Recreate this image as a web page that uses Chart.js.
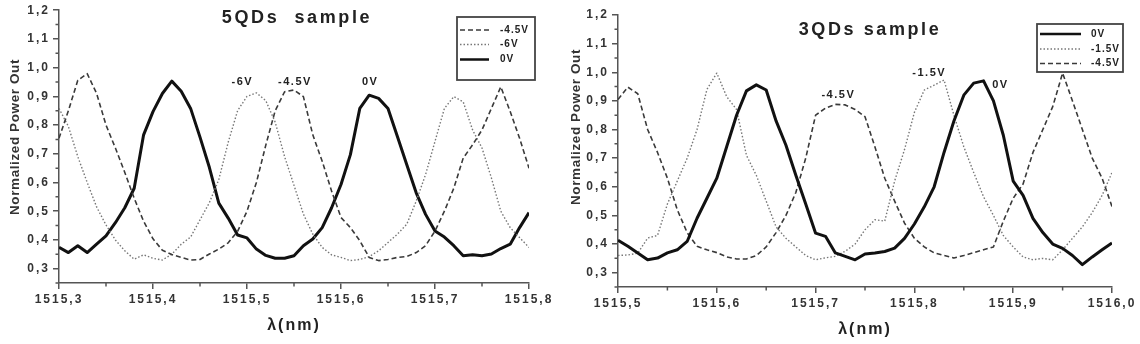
<!DOCTYPE html>
<html>
<head>
<meta charset="utf-8">
<script src="https://cdn.jsdelivr.net/npm/chart.js@4.4.1/dist/chart.umd.min.js"></script>
<style>
  html, body { margin: 0; padding: 0; background: #fff; overflow: hidden; }
  body { width: 1140px; height: 344px; position: relative; }
  #left { position: absolute; left: 0; top: 0; }
  #right { position: absolute; left: 560px; top: 0; }
</style>
</head>
<body>
<canvas id="left" width="560" height="344"></canvas>
<canvas id="right" width="600" height="344"></canvas>
<script>
const FONT = "'Liberation Sans', Arial, sans-serif";
const INK = '#333';
const AXIS = '#555';

// wavelength grids (nm)
const lambda5 = [1515.30, 1515.31, 1515.32, 1515.33, 1515.34, 1515.35, 1515.36, 1515.37, 1515.38, 1515.39,
  1515.40, 1515.41, 1515.42, 1515.43, 1515.44, 1515.45, 1515.46, 1515.47, 1515.48, 1515.49,
  1515.50, 1515.51, 1515.52, 1515.53, 1515.54, 1515.55, 1515.56, 1515.57, 1515.58, 1515.59,
  1515.60, 1515.61, 1515.62, 1515.63, 1515.64, 1515.65, 1515.66, 1515.67, 1515.68, 1515.69,
  1515.70, 1515.71, 1515.72, 1515.73, 1515.74, 1515.75, 1515.76, 1515.77, 1515.78, 1515.79, 1515.80];
const lambda3 = [1515.50, 1515.51, 1515.52, 1515.53, 1515.54, 1515.55, 1515.56, 1515.57, 1515.58, 1515.59,
  1515.60, 1515.61, 1515.62, 1515.63, 1515.64, 1515.65, 1515.66, 1515.67, 1515.68, 1515.69,
  1515.70, 1515.71, 1515.72, 1515.73, 1515.74, 1515.75, 1515.76, 1515.77, 1515.78, 1515.79,
  1515.80, 1515.81, 1515.82, 1515.83, 1515.84, 1515.85, 1515.86, 1515.87, 1515.88, 1515.89,
  1515.90, 1515.91, 1515.92, 1515.93, 1515.94, 1515.95, 1515.96, 1515.97, 1515.98, 1515.99, 1516.00];

// 5QDs sample
const qd5_0V = [0.374, 0.356, 0.38, 0.356, 0.385, 0.414, 0.46, 0.512, 0.58, 0.766,
  0.847, 0.91, 0.953, 0.918, 0.858, 0.758, 0.652, 0.528, 0.476, 0.417,
  0.407, 0.368, 0.346, 0.336, 0.336, 0.345, 0.38, 0.403, 0.443, 0.512,
  0.593, 0.697, 0.858, 0.904, 0.893, 0.858, 0.76, 0.662, 0.564, 0.489,
  0.431, 0.41, 0.38, 0.345, 0.348, 0.345, 0.351, 0.37, 0.385, 0.443, 0.495];
const qd5_m45V = [0.754, 0.85, 0.956, 0.979, 0.91, 0.8, 0.72, 0.635, 0.545, 0.465,
  0.404, 0.364, 0.349, 0.339, 0.33, 0.332, 0.351, 0.368, 0.39, 0.43,
  0.5, 0.6, 0.73, 0.85, 0.916, 0.922, 0.899, 0.766, 0.674, 0.57,
  0.478, 0.443, 0.397, 0.339, 0.328, 0.332, 0.339, 0.342, 0.356, 0.38,
  0.431, 0.5, 0.58, 0.685, 0.731, 0.783, 0.858, 0.933, 0.847, 0.754, 0.65];
const qd5_m6V = [0.858, 0.795, 0.69, 0.6, 0.515, 0.452, 0.4, 0.362, 0.333, 0.348,
  0.336, 0.33, 0.35, 0.385, 0.41, 0.47, 0.53, 0.61, 0.74, 0.85,
  0.9, 0.912, 0.885, 0.81, 0.69, 0.59, 0.49, 0.42, 0.374, 0.348,
  0.339, 0.328, 0.332, 0.342, 0.362, 0.391, 0.42, 0.455, 0.535, 0.628,
  0.743, 0.858, 0.899, 0.881, 0.783, 0.72, 0.616, 0.5, 0.443, 0.408, 0.374];

// 3QDs sample
const qd3_0V = [0.413, 0.392, 0.369, 0.345, 0.351, 0.369, 0.38, 0.409, 0.49, 0.56,
  0.63, 0.74, 0.85, 0.935, 0.956, 0.938, 0.83, 0.745, 0.64, 0.54,
  0.438, 0.427, 0.369, 0.357, 0.345, 0.365, 0.369, 0.374, 0.386, 0.42,
  0.47, 0.53, 0.6, 0.72, 0.83, 0.92, 0.962, 0.97, 0.9, 0.78,
  0.62, 0.57, 0.49, 0.44, 0.4, 0.385, 0.36, 0.328, 0.355, 0.38, 0.404];
const qd3_m15V = [0.36, 0.362, 0.368, 0.421, 0.43, 0.54, 0.62, 0.7, 0.8, 0.94,
  0.997, 0.915, 0.87, 0.71, 0.64, 0.55, 0.46, 0.42, 0.39, 0.36,
  0.345, 0.352, 0.357, 0.375, 0.4, 0.45, 0.485, 0.48, 0.62, 0.73,
  0.86, 0.938, 0.955, 0.973, 0.85, 0.74, 0.65, 0.565, 0.5, 0.43,
  0.39, 0.355, 0.345, 0.35, 0.345, 0.38, 0.42, 0.46, 0.51, 0.57, 0.65];
const qd3_m45V = [0.905, 0.948, 0.925, 0.8, 0.72, 0.63, 0.52, 0.44, 0.392, 0.38,
  0.37, 0.355, 0.348, 0.348, 0.36, 0.39, 0.44, 0.5, 0.58, 0.7,
  0.85, 0.875, 0.888, 0.886, 0.87, 0.845, 0.74, 0.63, 0.55, 0.473,
  0.42, 0.39, 0.369, 0.36, 0.351, 0.36, 0.37, 0.38, 0.39, 0.48,
  0.56, 0.61, 0.72, 0.8, 0.88, 0.997, 0.9, 0.8, 0.7, 0.63, 0.531];

const xTicks5 = [1515.3, 1515.4, 1515.5, 1515.6, 1515.7, 1515.8];
const xTicks3 = [1515.5, 1515.6, 1515.7, 1515.8, 1515.9, 1516.0];
const yTicks = [0.3, 0.4, 0.5, 0.6, 0.7, 0.8, 0.9, 1.0, 1.1, 1.2];

const notes5 = ['-6V', '-4.5V', '0V'];
const notes3 = ['-4.5V', '-1.5V', '0V'];

const lineStyles = {
  solid: { borderColor: '#111', borderWidth: 3, borderDash: [] },
  dash: { borderColor: '#3a3a3a', borderWidth: 1.6, borderDash: [5, 3] },
  dot: { borderColor: '#777', borderWidth: 1.4, borderDash: [1.5, 2] }
};

function series(label, xs, ys, style) {
  return Object.assign({
    label,
    data: xs.map((x, i) => ({ x, y: ys[i] })),
    pointRadius: 0,
    tension: 0,
    fill: false,
    borderJoinStyle: 'round'
  }, lineStyles[style]);
}

function fmt(v) {
  return Number(v).toFixed(1).replace('.', ',');
}

function midpoints(arr) {
  const out = [];
  for (let i = 0; i < arr.length - 1; i++) out.push((arr[i] + arr[i + 1]) / 2);
  return out;
}

// minor ticks, titles, peak labels and the boxed legend
const decor = {
  id: 'decor',
  beforeLayout(chart) { chart.ctx.letterSpacing = '2px'; },
  beforeDraw(chart) { chart.ctx.letterSpacing = '2px'; },
  afterDraw(chart, args, opts) {
    const { ctx } = chart;
    const x = chart.scales.x, y = chart.scales.y;
    ctx.save();

    ctx.strokeStyle = AXIS;
    ctx.lineWidth = 1.5;
    ctx.setLineDash([]);
    ctx.beginPath();
    midpoints(opts.xMajor).forEach(v => {
      const px = x.getPixelForValue(v);
      ctx.moveTo(px, y.bottom);
      ctx.lineTo(px, y.bottom + 3.5);
    });
    midpoints(opts.yMajor).concat([0.25]).forEach(v => {
      const py = y.getPixelForValue(v);
      ctx.moveTo(x.left - 3.5, py);
      ctx.lineTo(x.left, py);
    });
    ctx.stroke();

    ctx.fillStyle = '#222';
    ctx.textAlign = 'center';
    ctx.textBaseline = 'middle';
    ctx.font = 'bold 18px ' + FONT;
    ctx.letterSpacing = '2.6px';
    ctx.fillText(opts.title.text, opts.title.x, opts.title.y);

    // y axis title
    ctx.save();
    ctx.translate(opts.yTitle.x, opts.yTitle.y);
    ctx.rotate(-Math.PI / 2);
    ctx.font = 'bold 13.5px ' + FONT;
    ctx.letterSpacing = '0.6px';
    ctx.fillStyle = '#333';
    ctx.fillText(opts.yTitle.text, 0, 0);
    ctx.restore();

    ctx.font = 'bold 11px ' + FONT;
    ctx.letterSpacing = '1.5px';
    opts.notes.forEach(n => {
      ctx.fillText(n.text, x.getPixelForValue(n.at[0]), y.getPixelForValue(n.at[1]));
    });

    const lg = opts.legend;
    ctx.fillStyle = '#fff';
    ctx.fillRect(lg.left, lg.top, lg.width, lg.height);
    ctx.strokeStyle = '#444';
    ctx.lineWidth = 1.8;
    ctx.strokeRect(lg.left, lg.top, lg.width, lg.height);
    ctx.font = 'bold 10px ' + FONT;
    ctx.letterSpacing = '1px';
    ctx.textAlign = 'left';
    lg.order.forEach((di, row) => {
      const ds = chart.data.datasets[di];
      const ry = lg.rows[row];
      ctx.strokeStyle = ds.borderColor;
      ctx.lineWidth = Math.min(ds.borderWidth, 2.5);
      ctx.setLineDash(ds.borderDash);
      ctx.beginPath();
      ctx.moveTo(lg.lineX0, ry);
      ctx.lineTo(lg.lineX1, ry);
      ctx.stroke();
      ctx.fillStyle = '#222';
      ctx.fillText(ds.label, lg.textX, ry);
    });
    ctx.restore();
  }
};

function axes(xMin, xMax, xTicks, yWidth, xHeight, titleGap) {
  return {
    x: {
      type: 'linear',
      min: xMin,
      max: xMax,
      afterBuildTicks: s => { s.ticks = xTicks.map(v => ({ value: v })); },
      afterFit: s => { s.height = xHeight; },
      grid: { drawOnChartArea: false, drawTicks: true, tickLength: 6, color: AXIS, lineWidth: 1.5 },
      border: { display: true, color: AXIS, width: 1.5 },
      ticks: {
        color: INK, padding: 3, maxRotation: 0, autoSkip: false,
        font: { family: FONT, size: 12, weight: 'bold' },
        callback: v => fmt(v)
      },
      title: {
        display: true, text: 'λ(nm)', color: '#222',
        font: { family: FONT, size: 16, weight: 'bold' },
        padding: { top: 0, bottom: titleGap }
      }
    },
    y: {
      type: 'linear',
      min: 0.25,
      max: 1.2,
      afterBuildTicks: s => { s.ticks = yTicks.map(v => ({ value: v })); },
      afterFit: s => { s.width = yWidth; },
      grid: { drawOnChartArea: false, drawTicks: true, tickLength: 6, color: AXIS, lineWidth: 1.5 },
      border: { display: true, color: AXIS, width: 1.5 },
      ticks: {
        color: INK, padding: 3,
        font: { family: FONT, size: 12, weight: 'bold' },
        callback: v => fmt(v)
      },
      title: { display: false }
    }
  };
}

Chart.defaults.font.family = FONT;

new Chart(document.getElementById('left'), {
  type: 'line',
  data: {
    datasets: [
      series('-4.5V', lambda5, qd5_m45V, 'dash'),
      series('-6V', lambda5, qd5_m6V, 'dot'),
      series('0V', lambda5, qd5_0V, 'solid')
    ]
  },
  options: {
    responsive: false,
    animation: false,
    events: [],
    layout: { padding: { left: 0, top: 8, right: 31, bottom: 0 } },
    scales: axes(1515.3, 1515.8, xTicks5, 59, 61, 9),
    plugins: {
      legend: { display: false },
      tooltip: { enabled: false },
      decor: {
        xMajor: xTicks5,
        yMajor: yTicks,
        title: { text: '5QDs  sample', x: 297, y: 18 },
        yTitle: { text: 'Normalized Power Out', x: 15, y: 137 },
        notes: [
          { text: notes5[0], at: [1515.495, 0.95] },
          { text: notes5[1], at: [1515.551, 0.95] },
          { text: notes5[2], at: [1515.631, 0.95] }
        ],
        legend: { left: 457, top: 17, width: 78, height: 63, rows: [30, 44.5, 59.5], lineX0: 460, lineX1: 489, textX: 500, order: [0, 1, 2] }
      }
    }
  },
  plugins: [decor]
});

new Chart(document.getElementById('right'), {
  type: 'line',
  data: {
    datasets: [
      series('0V', lambda3, qd3_0V, 'solid'),
      series('-1.5V', lambda3, qd3_m15V, 'dot'),
      series('-4.5V', lambda3, qd3_m45V, 'dash')
    ]
  },
  options: {
    responsive: false,
    animation: false,
    events: [],
    layout: { padding: { left: 0, top: 15, right: 48, bottom: 0 } },
    scales: axes(1515.5, 1516.0, xTicks3, 58, 57, 5),
    plugins: {
      legend: { display: false },
      tooltip: { enabled: false },
      decor: {
        xMajor: xTicks3,
        yMajor: yTicks,
        title: { text: '3QDs sample', x: 310, y: 30 },
        yTitle: { text: 'Normalized Power Out', x: 16, y: 127 },
        notes: [
          { text: notes3[0], at: [1515.723, 0.921] },
          { text: notes3[1], at: [1515.815, 0.998] },
          { text: notes3[2], at: [1515.887, 0.956] }
        ],
        legend: { left: 477, top: 24, width: 86, height: 48, rows: [34, 49, 63.5], lineX0: 480, lineX1: 521, textX: 531, order: [0, 1, 2] }
      }
    }
  },
  plugins: [decor]
});
</script>
</body>
</html>
